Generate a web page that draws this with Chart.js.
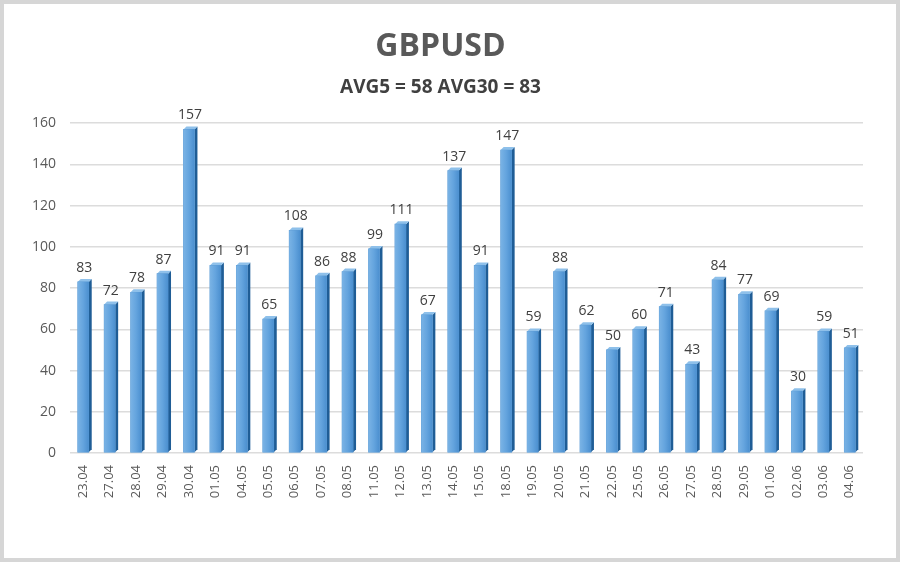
<!DOCTYPE html>
<html>
<head>
<meta charset="utf-8">
<script src="https://cdn.jsdelivr.net/npm/chart.js@4/dist/chart.umd.min.js"></script>
<style>
    html, body { margin: 0; padding: 0; background: #fff; }
    #wrap { width: 900px; height: 562px; position: relative; }
</style>
</head>
<body>
<div id="wrap"><canvas id="grafico"></canvas></div>
<script>
var datas = ['23.04', '27.04', '28.04', '29.04', '30.04', '01.05', '04.05', '05.05', '06.05', '07.05',
    '08.05', '11.05', '12.05', '13.05', '14.05', '15.05', '18.05', '19.05', '20.05', '21.05',
    '22.05', '25.05', '26.05', '27.05', '28.05', '29.05', '01.06', '02.06', '03.06', '04.06'];
var volatilidade = [83, 72, 78, 87, 157, 91, 91, 65, 108, 86,
    88, 99, 111, 67, 137, 91, 147, 59, 88, 62,
    50, 60, 71, 43, 84, 77, 69, 30, 59, 51];
var titulo = 'GBPUSD';
var subtitulo = 'AVG5 = 58 AVG30 = 83';

var fonte = '"Open Sans", "Liberation Sans", sans-serif';
var profundidade = 3;

// moldura cinza e fundo branco
var fundoPlugin = {
    id: 'fundo',
    beforeDraw: function (chart) {
        var c = chart.ctx;
        c.save();
        c.fillStyle = '#ffffff';
        c.fillRect(0, 0, chart.width, chart.height);
        c.strokeStyle = '#d6d6d6';
        c.lineWidth = 4;
        c.strokeRect(2, 2, chart.width - 4, chart.height - 4);
        c.restore();
    }
};

// faces laterais, topo e brilho das barras (efeito 3D) + rótulos de valor
var barra3dPlugin = {
    id: 'barra3d',
    beforeDatasetsDraw: function (chart) {
        var c = chart.ctx;
        var d = profundidade;
        chart.getDatasetMeta(0).data.forEach(function (bar) {
            var w = bar.width / 2;
            var topo = bar.y, base = bar.base;
            c.save();
            c.fillStyle = '#1f5d96';
            c.beginPath();
            c.moveTo(bar.x + w, topo);
            c.lineTo(bar.x + w + d, topo - d);
            c.lineTo(bar.x + w + d, base - d);
            c.lineTo(bar.x + w, base);
            c.closePath();
            c.fill();
            c.fillStyle = '#8ec0ea';
            c.beginPath();
            c.moveTo(bar.x - w, topo);
            c.lineTo(bar.x - w + d, topo - d);
            c.lineTo(bar.x + w + d, topo - d);
            c.lineTo(bar.x + w, topo);
            c.closePath();
            c.fill();
            c.restore();
        });
    },
    afterDatasetsDraw: function (chart) {
        var c = chart.ctx;
        var valores = chart.data.datasets[0].data;
        c.save();
        chart.getDatasetMeta(0).data.forEach(function (bar) {
            var w = bar.width / 2;
            var g = c.createLinearGradient(bar.x - w, 0, bar.x + w, 0);
            g.addColorStop(0, '#7ab3e5');
            g.addColorStop(0.5, '#64a4de');
            g.addColorStop(1, '#4b8fcf');
            c.fillStyle = g;
            c.fillRect(bar.x - w, bar.y, bar.width, bar.base - bar.y);
        });
        c.font = '14px ' + fonte;
        c.fillStyle = '#404040';
        c.textAlign = 'center';
        c.textBaseline = 'bottom';
        chart.getDatasetMeta(0).data.forEach(function (bar, i) {
            c.fillText(valores[i], bar.x + 1, bar.y - profundidade - 4);
        });
        c.restore();
    }
};

var ctx = document.getElementById('grafico').getContext('2d');

var myChart = new Chart(ctx, {
    type: 'bar',
    data: {
        labels: datas,
        datasets: [{
            data: volatilidade,
            backgroundColor: '#5b9bd5',
            borderWidth: 0,
            barThickness: 11
        }]
    },
    plugins: [fundoPlugin, barra3dPlugin],
    options: {
        responsive: true,
        maintainAspectRatio: false,
        animation: false,
        layout: {
            padding: { left: 18, right: 37, top: 0, bottom: 0 }
        },
        scales: {
            x: {
                grid: { display: false },
                border: { display: false },
                ticks: {
                    minRotation: 90,
                    maxRotation: 90,
                    font: { family: fonte, size: 13 },
                    color: '#595959',
                    padding: 4
                },
                afterFit: function (scale) { scale.height = 109; }
            },
            y: {
                min: 0,
                max: 160,
                grid: { color: '#dcdcdc', lineWidth: 1.5, drawTicks: false },
                border: { display: false },
                ticks: {
                    stepSize: 20,
                    font: { family: fonte, size: 14 },
                    color: '#595959',
                    padding: 14
                },
                afterFit: function (scale) { scale.width = 52; }
            }
        },
        plugins: {
            legend: { display: false },
            tooltip: { enabled: false },
            title: {
                display: true,
                text: titulo,
                color: '#595959',
                font: { family: fonte, size: 32, weight: 'bold' },
                padding: { top: 28, bottom: 10 }
            },
            subtitle: {
                display: true,
                text: subtitulo,
                color: '#404040',
                font: { family: fonte, size: 19, weight: 'bold' },
                padding: { top: 0, bottom: 24 }
            }
        }
    }
});
</script>
</body>
</html>
